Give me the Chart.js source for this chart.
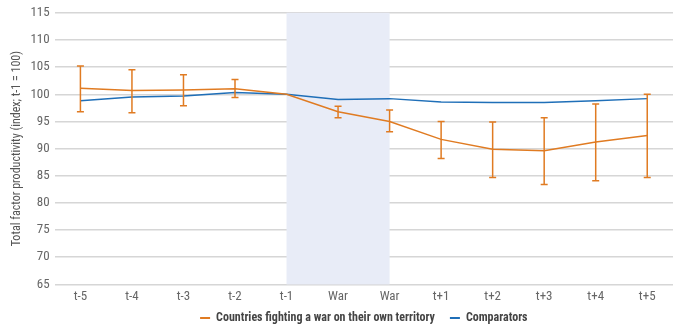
<!DOCTYPE html>
<html>
<head>
<meta charset="utf-8">
<script src="https://cdn.jsdelivr.net/npm/chart.js@4/dist/chart.umd.min.js"></script>
<style>
  html, body { margin: 0; padding: 0; background: #ffffff; }
  #wrap { width: 676px; height: 325px; position: relative; }
</style>
</head>
<body>
<div id="wrap"><canvas id="c" width="676" height="325"></canvas></div>
<script>
// Periods around the start of a war
const periods = ['t-5', 't-4', 't-3', 't-2', 't-1', 'War', 'War', 't+1', 't+2', 't+3', 't+4', 't+5'];

// TFP index (t-1 = 100)
const warCountries = [101.1, 100.7, 100.8, 101.0, 100.0, 96.8, 95.0, 91.7, 89.9, 89.6, 91.2, 92.4];
const warUpper     = [105.2, 104.5, 103.6, 102.7, 100.0, 97.8, 97.1, 95.0, 94.9, 95.7, 98.2, 100.0];
const warLower     = [96.8, 96.6, 97.9, 99.4, 100.0, 95.7, 93.1, 88.2, 84.7, 83.4, 84.1, 84.7];
const comparators  = [98.8, 99.5, 99.7, 100.35, 100.0, 99.05, 99.2, 98.6, 98.5, 98.5, 98.8, 99.2];

// Shaded war window: from t-1 to the second War period (category indices)
const shadeFrom = 4;
const shadeTo = 6;

const ORANGE = '#e07b22';
const BLUE = '#1f6fb8';
const FONT = '"Roboto Condensed", "Liberation Sans", Arial, sans-serif';

const shadePlugin = {
  id: 'warShade',
  beforeDatasetsDraw(chart) {
    const { ctx, chartArea, scales } = chart;
    const x0 = scales.x.getPixelForValue(shadeFrom);
    const x1 = scales.x.getPixelForValue(shadeTo);
    ctx.save();
    ctx.fillStyle = '#e8ecf7';
    ctx.fillRect(x0, chartArea.top, x1 - x0, chartArea.bottom - chartArea.top);
    ctx.restore();
  }
};

const errorBarPlugin = {
  id: 'errorBars',
  afterDatasetsDraw(chart) {
    const { ctx, scales } = chart;
    ctx.save();
    ctx.strokeStyle = ORANGE;
    ctx.lineWidth = 1.5;
    for (let i = 0; i < periods.length; i++) {
      if (warUpper[i] === warLower[i]) continue;
      const x = scales.x.getPixelForValue(i);
      const yt = scales.y.getPixelForValue(warUpper[i]);
      const yb = scales.y.getPixelForValue(warLower[i]);
      ctx.beginPath();
      ctx.moveTo(x, yt); ctx.lineTo(x, yb);
      ctx.moveTo(x - 3.5, yt); ctx.lineTo(x + 3.5, yt);
      ctx.moveTo(x - 3.5, yb); ctx.lineTo(x + 3.5, yb);
      ctx.stroke();
    }
    ctx.restore();
  }
};

// Pull the legend up closer to the axis labels
const legendNudge = {
  id: 'legendNudge',
  afterLayout(chart) {
    const lg = chart.legend;
    if (!lg) return;
    const d = 13;
    lg.top -= d;
    lg.bottom -= d;
  }
};

new Chart(document.getElementById('c'), {
  type: 'line',
  data: {
    labels: periods,
    datasets: [
      {
        label: 'Countries fighting a war on their own territory',
        data: warCountries,
        borderColor: ORANGE,
        backgroundColor: ORANGE,
        borderWidth: 1.5,
        pointRadius: 0,
        tension: 0
      },
      {
        label: 'Comparators',
        data: comparators,
        borderColor: BLUE,
        backgroundColor: BLUE,
        borderWidth: 1.5,
        pointRadius: 0,
        tension: 0
      }
    ]
  },
  options: {
    responsive: false,
    animation: false,
    devicePixelRatio: 1,
    layout: { padding: { left: 10, right: 3, top: 8, bottom: -22 } },
    plugins: {
      tooltip: { enabled: false },
      legend: {
        position: 'bottom',
        fullSize: false,
        labels: {
          boxWidth: 10,
          boxHeight: 2,
          padding: 15,
          color: '#444444',
          font: { family: FONT, size: 12, weight: 'bold' },
          generateLabels(chart) {
            const items = Chart.defaults.plugins.legend.labels.generateLabels(chart);
            items.forEach(it => { it.lineWidth = 0; });
            return items;
          }
        }
      }
    },
    scales: {
      x: {
        offset: true,
        grid: { display: false, drawTicks: false },
        border: { display: false },
        ticks: {
          color: '#666666',
          padding: 5,
          maxRotation: 0,
          autoSkip: false,
          font: { family: FONT, size: 13 }
        }
      },
      y: {
        min: 65,
        max: 115,
        ticks: {
          stepSize: 5,
          color: '#666666',
          padding: 5,
          font: { family: FONT, size: 13 }
        },
        grid: { color: '#d6d6d6', lineWidth: 1.5, drawTicks: false },
        border: { display: false },
        title: {
          display: true,
          text: 'Total factor productivity (index; t-1 = 100)',
          color: '#555555',
          padding: { top: 0, bottom: 1 },
          font: { family: FONT, size: 12 }
        }
      }
    }
  },
  plugins: [shadePlugin, errorBarPlugin, legendNudge]
});
</script>
</body>
</html>
